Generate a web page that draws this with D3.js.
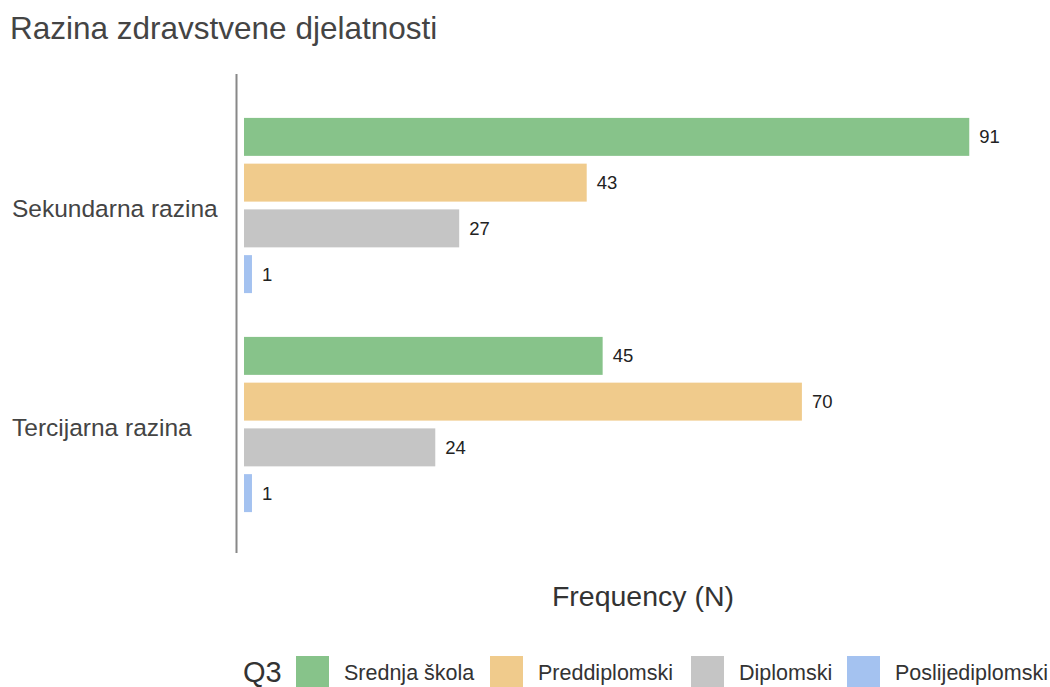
<!DOCTYPE html>
<html><head><meta charset="utf-8">
<script src="https://cdn.jsdelivr.net/npm/d3@7/dist/d3.min.js"></script>
<style>body{margin:0;background:#fff;}svg{display:block;}</style>
</head><body><svg id="c" width="1050" height="687"></svg>
<script>
const categories = ["Sekundarna razina", "Tercijarna razina"];
const seriesNames = ["Srednja škola", "Preddiplomski", "Diplomski", "Poslijediplomski"];
const seriesColors = ["#87C38A", "#F0CB8C", "#C5C5C5", "#A4C2F0"];
const srednjaSkola = [91, 45];
const preddiplomski = [43, 70];
const diplomski = [27, 24];
const poslijediplomski = [1, 1];
const seriesValues = [srednjaSkola, preddiplomski, diplomski, poslijediplomski];

const svg = d3.select("#c");
const font = "'Liberation Sans', Arial, sans-serif";
const left = 244, right = 244 + 7.97 * 100;
const x = d3.scaleLinear().domain([0, 100]).range([left, right]);
const y0 = d3.scaleBand().domain(categories).range([96, 534]).paddingInner(0.2).paddingOuter(0.1);
const y1 = d3.scaleBand().domain(seriesNames).range([0, y0.bandwidth()]).paddingInner(0.17);

svg.append("text").attr("x", 10).attr("y", 39).attr("font-family", font).attr("font-size", 31.5)
  .attr("fill", "#444").text("Razina zdravstvene djelatnosti");

const rows = [];
categories.forEach((c, ci) => seriesNames.forEach((s, si) => rows.push({c, s, si, v: seriesValues[si][ci]})));

const g = svg.append("g");
g.selectAll("rect").data(rows).join("rect")
  .attr("x", x(0)).attr("y", d => y0(d.c) + y1(d.s))
  .attr("width", d => x(d.v) - x(0)).attr("height", y1.bandwidth())
  .attr("fill", d => seriesColors[d.si]);
g.selectAll("text.val").data(rows).join("text").attr("class", "val")
  .attr("x", d => x(d.v) + 10).attr("y", d => y0(d.c) + y1(d.s) + y1.bandwidth() / 2)
  .attr("dy", "0.35em").attr("font-family", font).attr("font-size", 18.5).attr("fill", "#222")
  .text(d => d.v);

// y axis
const yAxis = d3.axisLeft(y0).tickSize(0).tickPadding(0);
const ya = svg.append("g").attr("transform", "translate(236.5,0)").call(yAxis);
ya.select(".domain").remove();
ya.selectAll("text").remove();
svg.append("line").attr("x1", 236.5).attr("x2", 236.5).attr("y1", 74).attr("y2", 553)
  .attr("stroke", "#888").attr("stroke-width", 2);
svg.selectAll("text.cat").data(categories).join("text").attr("class", "cat")
  .attr("x", 12).attr("y", d => y0(d) + y0.bandwidth() / 2 + 3).attr("dy", "0.35em")
  .attr("font-family", font).attr("font-size", 24.5).attr("fill", "#444").text(d => d);

svg.append("text").attr("x", 643).attr("y", 606).attr("text-anchor", "middle")
  .attr("font-family", font).attr("font-size", 28.5).attr("fill", "#333").text("Frequency (N)");

// legend
const lg = svg.append("g");
lg.append("text").attr("x", 243).attr("y", 682).attr("font-family", font).attr("font-size", 29)
  .attr("fill", "#333").text("Q3");
const legX = [296, 490, 691, 847];
seriesNames.forEach((s, i) => {
  lg.append("rect").attr("x", legX[i]).attr("y", 656).attr("width", 33).attr("height", 33).attr("fill", seriesColors[i]);
  lg.append("text").attr("x", legX[i] + 48).attr("y", 680).attr("font-family", font).attr("font-size", 21.5)
    .attr("fill", "#333").text(s);
});
</script></body></html>
